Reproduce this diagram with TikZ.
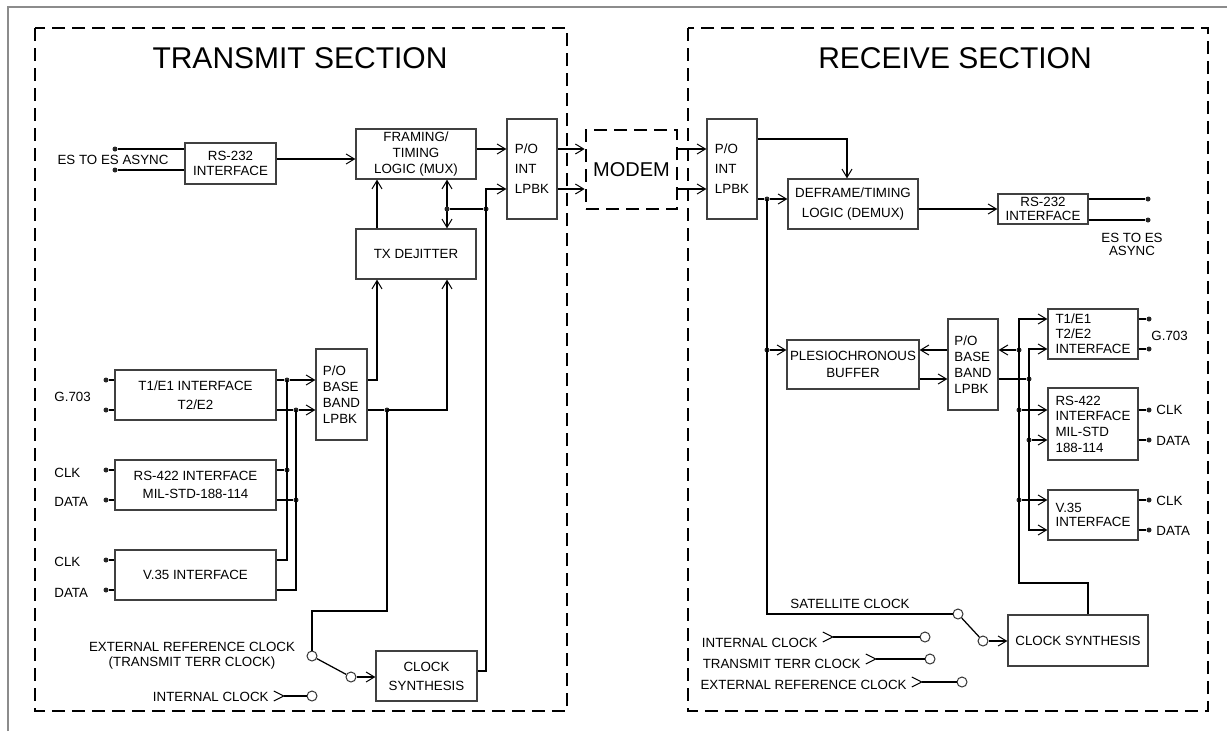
\documentclass[tikz,border=0pt]{standalone}
\usepackage{fontspec}
\setmainfont{Liberation Sans}
\usetikzlibrary{arrows.meta}

\tikzset{
  blk/.style 2 args={draw=black!75, line width=0.75pt, inner sep=0pt,
    minimum width=#1*0.6pt, minimum height=#2*0.6pt, align=center,
    font=\fontsize{8}{9.6}\selectfont},
  lsp/.style={font=\fontsize{8}{#1}\selectfont},
  lbl/.style={inner sep=0.5pt, align=center, font=\fontsize{8}{9}\selectfont},
  dot/.style={circle, fill=black!85, inner sep=0pt, minimum size=3pt},
  sw/.style={circle, draw=black!80, line width=0.6pt, inner sep=0pt, minimum size=6pt},
  arr/.style={-{Straight Barb[length=5pt,width=6pt,line width=0.6pt]}},
  arrs/.style={{Straight Barb[length=5pt,width=6pt,line width=0.6pt]}-{Straight Barb[length=5pt,width=6pt,line width=0.6pt]}},
  tail/.style={{Straight Barb[reversed,length=6pt,width=6pt,line width=0.6pt]}-},
  sect/.style={draw=black, line width=1.6pt, dash pattern=on 7.8pt off 4.2pt},
  title/.style={font=\fontsize{18}{20}\selectfont},
}

\begin{document}
\begin{tikzpicture}[x=0.6pt, y=-0.6pt, line width=0.75pt]
    \useasboundingbox (0,0) rectangle (1227,731);
    \draw[black!45, line width=0.9pt] (8,731) -- (8,7) -- (1227,7);

    % sections
    \draw[sect] (35,28) rectangle (567,711);
    \draw[sect] (688,28) rectangle (1208,711);
    \node[title] (txtitle) at (300,58) {TRANSMIT SECTION};
    \node[title] (rxtitle) at (955,58) {RECEIVE SECTION};

    \node[blk={91}{79}, sect, font=\fontsize{12}{14}\selectfont] (modem) at (631.5,169.5) {MODEM};

    % transmit
    \node[blk={91}{41}, lsp=9] (txrs) at (230.5,163.5) {RS-232\\INTERFACE};
    \node[blk={120}{50}] (frm) at (416,154) {FRAMING/\\TIMING\\LOGIC (MUX)};
    \node[blk={50}{100}, lsp=12, align=left] (txint) at (532,169) {P/O\\INT\\LPBK};
    \node[blk={120}{50}] (dej) at (416,254) {TX DEJITTER};
    \node[blk={51}{91}, align=left] (txbb) at (341.5,394.5) {P/O\\BASE\\BAND\\LPBK};
    \node[blk={161}{50}, lsp=11.4] (txt1) at (195.5,395) {T1/E1 INTERFACE\\T2/E2};
    \node[blk={161}{50}, lsp=11] (txrs4) at (195.5,485) {RS-422 INTERFACE\\MIL-STD-188-114};
    \node[blk={161}{50}] (txv35) at (195.5,575) {V.35 INTERFACE};
    \node[blk={101}{50}, lsp=11.4] (txcs) at (426.5,676) {CLOCK\\SYNTHESIS};

    \node[dot] (esA) at (115,149) {};
    \node[dot] (esB) at (115,170) {};
    \node[lbl] (esT) at (113,160) {ES TO ES ASYNC};
    \draw (esA) -- (esA -| txrs.west);
    \draw (esB) -- (esB -| txrs.west);
    \draw[arr] (txrs.east |- 0,159) -- (frm.west |- 0,159);
    \draw[arr] (frm.east |- 0,149) -- (txint.west |- 0,149);
    \draw[arr] (txint.east |- 0,149) -- (modem.west |- 0,149);
    \draw[arr] (txint.east |- 0,189) -- (modem.west |- 0,189);
    \draw[arr] (dej.north -| 377,0) -- (frm.south -| 377,0);
    \draw[arrs] (frm.south -| 447,0) -- (dej.north -| 447,0);
    \node[dot] (jA) at (447,209) {};
    \node[dot] (jB) at (486,209) {};
    \draw (jA) -- (jB);
    \draw[arr] (txcs.east |- 0,671) -| (jB.center) |- (txint.west |- 0,189);

    \foreach \n/\y/\b in {tG1/380/txt1, tG2/410/txt1, tC1/470/txrs4,
                          tD1/500/txrs4, tC2/560/txv35, tD2/590/txv35}{
      \node[dot] (\n) at (106,\y) {};
      \draw (\n) -- (\n -| \b.west);
    }
    \foreach \n/\y/\t in {lG/397/G.703, lC1/473/CLK, lD1/502/DATA,
                          lC2/562/CLK, lD2/593/DATA}
      \node[lbl, anchor=west] (\n) at (53,\y) {\t};

    \node[dot] (bA1) at (287,380) {};
    \node[dot] (bB1) at (296,410) {};
    \node[dot] (bA2) at (287,470) {};
    \node[dot] (bB2) at (296,500) {};
    \foreach \d/\b in {bA1/txt1, bB1/txt1, bA2/txrs4, bB2/txrs4}
      \draw (\d -| \b.east) -- (\d);
    \draw (tC2 -| txv35.east) -| (bA1.center);
    \draw (tD2 -| txv35.east) -| (bB1.center);
    \draw[arr] (bA1) -- (bA1 -| txbb.west);
    \draw[arr] (bB1) -- (bB1 -| txbb.west);

    \draw[arr] (txbb.east |- bA1) -| (dej.south -| 377,0);
    \node[dot] (jBB) at (387,410) {};
    \draw (txbb.east |- jBB) -- (jBB);
    \draw[arr] (jBB.center) -| (dej.south -| 447,0);

    % transmit clock
    \node[sw] (swTa) at (312,656) {};
    \node[sw] (swTb) at (351,677) {};
    \node[sw] (swTc) at (312,696) {};
    \draw (jBB.center) |- (swTa |- 0,611) -- (swTa);
    \draw (swTa) -- (swTb);
    \draw[arr] (swTb) -- (swTb -| txcs.west);
    \node[lbl, font=\fontsize{8}{9}\selectfont] (extT) at (192,655.5) {EXTERNAL REFERENCE CLOCK\\(TRANSMIT TERR CLOCK)};
    \node[lbl, anchor=east] (intT) at (270,697) {INTERNAL CLOCK};
    \draw[tail] ([xshift=2pt]intT.east |- swTc) -- (swTc);

    % receive
    \node[blk={50}{100}, lsp=12, align=left] (rxint) at (732,169) {P/O\\INT\\LPBK};
    \node[blk={130}{50}, lsp=12] (dfr) at (853,204) {DEFRAME/TIMING\\LOGIC (DEMUX)};
    \node[blk={90}{30}, lsp=8] (rxrs) at (1043,209) {RS-232\\INTERFACE};
    \node[blk={132}{49}, lsp=10] (ple) at (853,364.5) {PLESIOCHRONOUS\\BUFFER};
    \node[blk={50}{91}, align=left] (rxbb) at (973,364.5) {P/O\\BASE\\BAND\\LPBK};
    \node[blk={90}{50}, lsp=9, align=left] (rxt1) at (1093,334) {T1/E1\\T2/E2\\INTERFACE};
    \node[blk={90}{72}, lsp=9.4, align=left] (rxrs4) at (1093,424) {RS-422\\INTERFACE\\MIL-STD\\188-114};
    \node[blk={90}{50}, lsp=8.4, align=left] (rxv35) at (1093,515) {V.35\\INTERFACE};
    \node[blk={140}{51}] (rxcs) at (1078,640.5) {CLOCK SYNTHESIS};

    \draw[arr] (modem.east |- 0,149) -- (rxint.west |- 0,149);
    \draw[arr] (modem.east |- 0,189) -- (rxint.west |- 0,189);
    \draw[arr] (rxint.east |- 0,139) -| (dfr.north -| 847,0);
    \node[dot] (rxA) at (767,199) {};
    \node[dot] (rxB) at (767,350) {};
    \draw (rxint.east |- rxA) -- (rxA);
    \draw[arr] (rxA) -- (rxA -| dfr.west);
    \draw[arr] (rxB) -- (rxB -| ple.west);
    \draw[arr] (dfr.east |- rxrs.west) -- (rxrs.west);

    \node[dot] (esC) at (1148,199) {};
    \node[dot] (esD) at (1148,220) {};
    \draw (esC -| rxrs.east) -- (esC);
    \draw (esD -| rxrs.east) -- (esD);
    \node[lbl, font=\fontsize{8}{7.8}\selectfont] (esR) at (1132,244) {ES TO ES\\ASYNC};

    \node[dot] (busE1) at (1019,350) {};
    \node[dot] (busE2) at (1019,410) {};
    \node[dot] (busE3) at (1019,500) {};
    \node[dot] (busF1) at (1029,379) {};
    \node[dot] (busF2) at (1029,440) {};
    \draw[arr] (rxbb.west |- rxB) -- (ple.east |- rxB);
    \draw[arr] (ple.east |- busF1) -- (rxbb.west |- busF1);
    \draw[arr] (busE1) -- (busE1 -| rxbb.east);
    \draw (rxbb.east |- busF1) -- (busF1);
    \draw[arr] (rxcs.north -| 1088,0) |- (busE1 |- 0,583) -- (busE1 |- 0,319) -- (rxt1.west |- 0,319);
    \draw[arrs] (rxt1.west |- 0,349) -| (busF1.center) |- (rxv35.west |- 0,530);
    \foreach \d/\b in {busE2/rxrs4, busE3/rxv35, busF2/rxrs4}
      \draw[arr] (\d) -- (\d -| \b.west);

    \foreach \n/\y/\b in {oG1/319/rxt1, oG2/349/rxt1, oC1/410/rxrs4,
                          oD1/440/rxrs4, oC2/500/rxv35, oD2/530/rxv35}{
      \node[dot] (\n) at (1149,\y) {};
      \draw (\n -| \b.east) -- (\n);
    }
    \node[lbl, anchor=west] (lG3) at (1150,336) {G.703};
    \foreach \n/\y/\t in {lC3/410/CLK, lD3/441/DATA, lC4/501/CLK, lD4/531/DATA}
      \node[lbl, anchor=west] (\n) at (1155,\y) {\t};

    % receive clock
    \node[sw] (swRa) at (958,614) {};
    \node[sw] (swRb) at (983,641) {};
    \node[sw] (swRc) at (925,637) {};
    \node[sw] (swRd) at (930,659) {};
    \node[sw] (swRe) at (962,682) {};
    \draw (rxA.center) -- (rxB.center) |- (swRa);
    \draw (swRa) -- (swRb);
    \draw[arr] (swRb) -- (swRb -| rxcs.west);
    \node[lbl] (satl) at (850,604) {SATELLITE CLOCK};
    \node[lbl, anchor=east] (intR) at (819,643) {INTERNAL CLOCK};
    \node[lbl, anchor=east] (terR) at (862,664) {TRANSMIT TERR CLOCK};
    \node[lbl, anchor=east] (extR) at (908,685) {EXTERNAL REFERENCE CLOCK};
    \draw[tail] ([xshift=2pt]intR.east |- swRc) -- (swRc);
    \draw[tail] ([xshift=2pt]terR.east |- swRd) -- (swRd);
    \draw[tail] ([xshift=2pt]extR.east |- swRe) -- (swRe);

\end{tikzpicture}
\end{document}
